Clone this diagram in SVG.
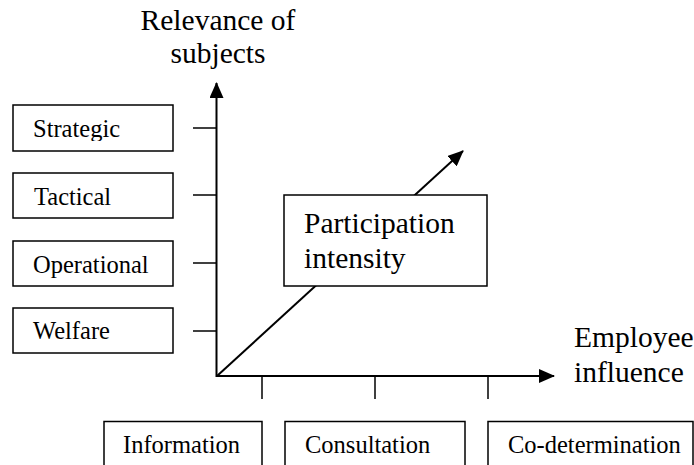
<svg xmlns="http://www.w3.org/2000/svg" width="694" height="465" viewBox="0 0 694 465">
<style>
.box{fill:#fff;stroke:#000;stroke-width:1.5}
.ax{stroke:#000;stroke-width:2;fill:none}
.tk{stroke:#000;stroke-width:1.5;fill:none}
text{font-family:'Liberation Serif','Times New Roman',Tinos,'DejaVu Serif',serif;fill:#000}
.big{font-size:29.5px}
.sm{font-size:24.5px}
</style>
<defs>
<marker id="ah" markerUnits="userSpaceOnUse" markerWidth="16" markerHeight="14" refX="15" refY="7" orient="auto">
<path d="M0,0 L16,7 L0,14 Z" fill="#000"/>
</marker>
<clipPath id="clipS"><rect x="13" y="105" width="160" height="36"/></clipPath>
</defs>
<g id="connectors">
<line class="ax" x1="217" y1="376" x2="463" y2="151" marker-end="url(#ah)"/>
<line class="ax" x1="216.5" y1="377" x2="216.5" y2="83" marker-end="url(#ah)"/>
<line class="ax" x1="216" y1="376" x2="554" y2="376" marker-end="url(#ah)"/>
<line class="tk" x1="193" y1="128" x2="216" y2="128"/>
<line class="tk" x1="193" y1="195" x2="216" y2="195"/>
<line class="tk" x1="193" y1="263" x2="216" y2="263"/>
<line class="tk" x1="193" y1="331" x2="216" y2="331"/>
<line class="tk" x1="262" y1="376" x2="262" y2="399"/>
<line class="tk" x1="375" y1="376" x2="375" y2="399"/>
<line class="tk" x1="488" y1="376" x2="488" y2="399"/>
</g>
<g id="axis-y-label">
<text class="big" x="218" y="30" text-anchor="middle" font-family="Liberation Serif, serif">Relevance of</text>
<text class="big" x="218" y="63" text-anchor="middle" font-family="Liberation Serif, serif">subjects</text>
</g>
<g id="axis-x-label">
<text class="big" x="574" y="347">Employee</text>
<text class="big" x="574" y="382">influence</text>
</g>
<g id="participation">
<rect class="box" x="284" y="195" width="203" height="91"/>
<text class="big" x="304" y="233">Participation</text>
<text class="big" x="304" y="268">intensity</text>
</g>
<g id="strategic">
<rect class="box" x="13" y="105" width="160" height="46"/>
<text class="sm" x="33" y="137" clip-path="url(#clipS)">Strategic</text>
</g>
<g id="tactical">
<rect class="box" x="13" y="173" width="160" height="45"/>
<text class="sm" x="34" y="205">Tactical</text>
</g>
<g id="operational">
<rect class="box" x="13" y="241" width="160" height="45"/>
<text class="sm" x="33" y="273">Operational</text>
</g>
<g id="welfare">
<rect class="box" x="13" y="308" width="160" height="45"/>
<text class="sm" x="33" y="339">Welfare</text>
</g>
<g id="information">
<rect class="box" x="104" y="421.5" width="158" height="60"/>
<text class="sm" x="123" y="453">Information</text>
</g>
<g id="consultation">
<rect class="box" x="285" y="421.5" width="180" height="60"/>
<text class="sm" x="305" y="453">Consultation</text>
</g>
<g id="codetermination">
<rect class="box" x="488" y="421.5" width="205" height="60"/>
<text class="sm" x="508" y="453">Co-determination</text>
</g>
</svg>
